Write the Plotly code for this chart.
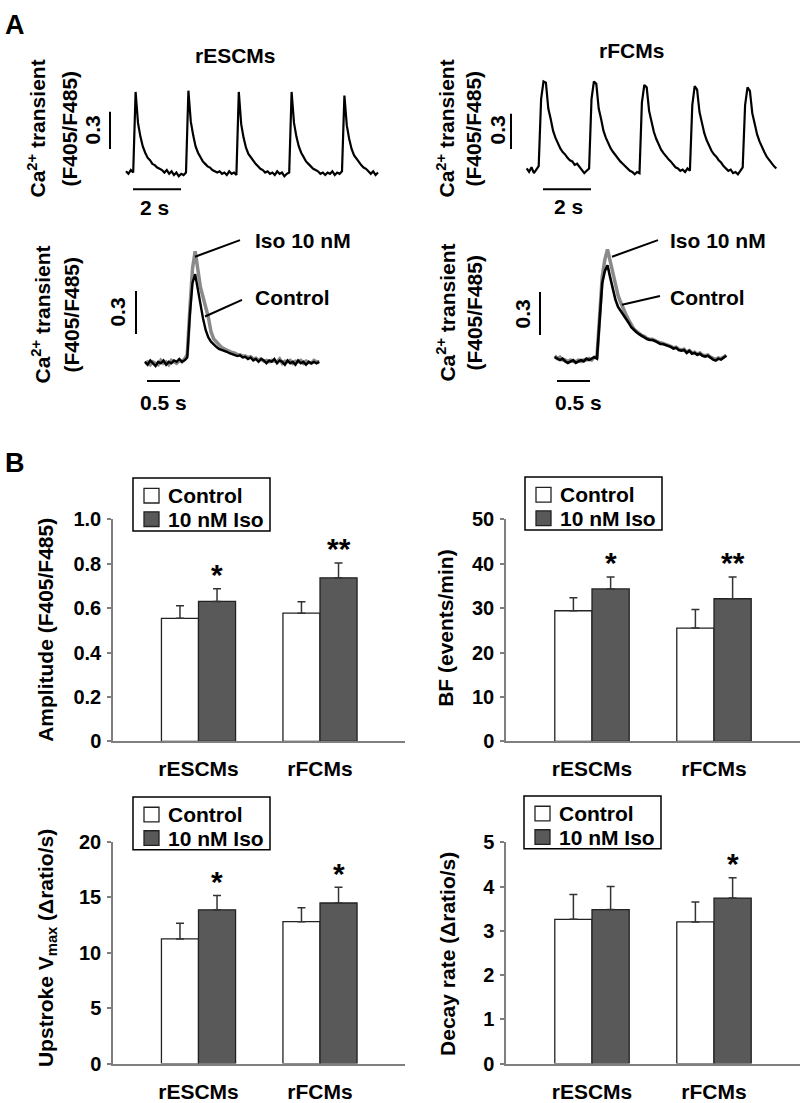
import numpy as np
import plotly.graph_objects as go

W, H = 800, 1103
FONT = "Liberation Sans, Arial, Helvetica, sans-serif"

# ---------------- Panel A: Ca2+ transient traces (F405/F485 ratio) ----------------
dt_top = 0.1   # s per sample (spontaneous traces)
escm_spont = [0.46, 0.44, 0.47, 0.45,
              1.10, 0.85, 0.74, 0.66, 0.61, 0.57, 0.55, 0.52, 0.51, 0.49, 0.48, 0.47, 0.45, 0.47, 0.44, 0.46, 0.43, 0.45, 0.42, 0.44, 0.43, 0.45,
              1.11, 0.86, 0.75, 0.66, 0.61, 0.57, 0.54, 0.52, 0.50, 0.49, 0.47, 0.46, 0.45, 0.46, 0.44, 0.45, 0.43, 0.46, 0.44, 0.45, 0.43,
              1.10, 0.84, 0.73, 0.65, 0.60, 0.57, 0.54, 0.52, 0.50, 0.48, 0.47, 0.45, 0.46, 0.44, 0.45, 0.43, 0.46, 0.44, 0.45, 0.42, 0.44, 0.45,
              1.10, 0.85, 0.74, 0.66, 0.61, 0.57, 0.54, 0.52, 0.50, 0.48, 0.47, 0.46, 0.44, 0.45, 0.43, 0.45, 0.44, 0.46, 0.43, 0.45, 0.44, 0.46,
              1.07, 0.83, 0.72, 0.64, 0.59, 0.56, 0.53, 0.51, 0.49, 0.48, 0.46, 0.44, 0.46, 0.43, 0.45]
fcm_spont = [0.46, 0.43, 0.47, 0.42, 0.45, 0.48,
             1.05, 1.20, 1.19, 0.97, 0.88, 0.78, 0.72, 0.67, 0.63, 0.60, 0.58, 0.55, 0.53, 0.52, 0.49, 0.50, 0.47, 0.45, 0.42, 0.44, 0.46,
             1.05, 1.20, 1.18, 0.97, 0.88, 0.78, 0.72, 0.67, 0.63, 0.60, 0.57, 0.54, 0.52, 0.50, 0.48, 0.46, 0.44, 0.43, 0.41, 0.43, 0.42,
             1.02, 1.17, 1.15, 0.95, 0.86, 0.77, 0.71, 0.66, 0.62, 0.59, 0.56, 0.54, 0.52, 0.49, 0.47, 0.46, 0.44, 0.45, 0.43, 0.46, 0.44,
             1.00, 1.16, 1.13, 0.94, 0.85, 0.76, 0.70, 0.65, 0.61, 0.58, 0.56, 0.53, 0.51, 0.48, 0.46, 0.44, 0.45, 0.42, 0.43, 0.41, 0.44, 0.47,
             1.00, 1.15, 1.12, 0.93, 0.84, 0.75, 0.69, 0.64, 0.60, 0.56, 0.53, 0.50, 0.48, 0.46]

dt_single = 0.04   # s per sample (single transients)
escm_ctrl_tr = [0.45, 0.43, 0.46, 0.44, 0.42, 0.45, 0.44, 0.46, 0.43, 0.45, 0.44, 0.46, 0.45, 0.47, 0.45, 0.46,
                0.48, 0.78, 1.00, 1.06, 0.95, 0.86, 0.75, 0.67, 0.62, 0.59, 0.57, 0.555, 0.54, 0.535, 0.525, 0.52,
                0.51, 0.505, 0.50, 0.49, 0.495, 0.48, 0.485, 0.47, 0.48, 0.46, 0.47, 0.45, 0.47, 0.46, 0.44, 0.46,
                0.45, 0.47, 0.44, 0.46, 0.45, 0.43, 0.46, 0.44, 0.45, 0.43, 0.46, 0.44, 0.45, 0.43, 0.45, 0.44,
                0.45, 0.44, 0.45]
escm_iso_tr = [0.44, 0.45, 0.43, 0.45, 0.44, 0.43, 0.46, 0.44, 0.45, 0.43, 0.46, 0.45, 0.44, 0.46, 0.45, 0.47,
               0.50, 0.82, 1.10, 1.22, 1.09, 0.97, 0.90, 0.83, 0.76, 0.66, 0.61, 0.59, 0.565, 0.55, 0.54, 0.53,
               0.52, 0.515, 0.51, 0.50, 0.50, 0.49, 0.49, 0.48, 0.485, 0.47, 0.475, 0.46, 0.47, 0.455, 0.46, 0.45,
               0.46, 0.455, 0.45, 0.47, 0.44, 0.455, 0.45, 0.46, 0.44, 0.455, 0.45, 0.46, 0.44, 0.455, 0.45, 0.44,
               0.46, 0.45, 0.45]
fcm_ctrl_tr = [0.46, 0.45, 0.44, 0.45, 0.43, 0.42, 0.43, 0.44, 0.42, 0.43, 0.44, 0.43, 0.45, 0.44, 0.45, 0.46,
               0.45, 0.69, 0.975, 1.06, 1.10, 1.016, 0.934, 0.86, 0.81, 0.784, 0.757, 0.73, 0.70, 0.668, 0.648, 0.634,
               0.62, 0.607, 0.60, 0.586, 0.58, 0.58, 0.573, 0.56, 0.552, 0.552, 0.545, 0.54, 0.532, 0.52, 0.525, 0.51,
               0.505, 0.51, 0.49, 0.505, 0.484, 0.49, 0.477, 0.484, 0.47, 0.464, 0.47, 0.457, 0.443, 0.436, 0.45, 0.443,
               0.457, 0.47]
fcm_iso_tr = [0.47, 0.45, 0.46, 0.44, 0.44, 0.43, 0.44, 0.43, 0.43, 0.44, 0.43, 0.44, 0.44, 0.45, 0.44, 0.46,
              0.46, 0.72, 1.02, 1.14, 1.21, 1.13, 1.04, 0.975, 0.89, 0.84, 0.79, 0.757, 0.72, 0.69, 0.655, 0.64,
              0.625, 0.61, 0.605, 0.59, 0.585, 0.585, 0.575, 0.565, 0.56, 0.555, 0.55, 0.545, 0.535, 0.525, 0.53, 0.515,
              0.51, 0.515, 0.495, 0.505, 0.49, 0.495, 0.48, 0.49, 0.475, 0.47, 0.475, 0.46, 0.45, 0.445, 0.455, 0.45,
              0.46, 0.475]

scale_ratio = 0.3      # vertical scale bar (ratio units)
scale_t_spont = 2.0    # s
scale_t_single = 0.5   # s

# ---------------- Panel B: bar data ----------------
groups = ["rESCMs", "rFCMs"]
series_names = ["Control", "10 nM Iso"]
amp_ctrl, amp_ctrl_err = [0.554, 0.577], [0.057, 0.051]
amp_iso, amp_iso_err = [0.630, 0.736], [0.057, 0.067]
bf_ctrl, bf_ctrl_err = [29.4, 25.5], [2.9, 4.2]
bf_iso, bf_iso_err = [34.3, 32.1], [2.7, 4.9]
vmax_ctrl, vmax_ctrl_err = [11.23, 12.79], [1.41, 1.26]
vmax_iso, vmax_iso_err = [13.85, 14.47], [1.30, 1.41]
decay_ctrl, decay_ctrl_err = [3.26, 3.20], [0.56, 0.45]
decay_iso, decay_iso_err = [3.48, 3.74], [0.52, 0.46]
amp_stars = ["*", "**"]
bf_stars = ["*", "**"]
vmax_stars = ["*", "*"]
decay_stars = ["", "*"]
amp_ticks = [0, 0.2, 0.4, 0.6, 0.8, 1.0]
amp_ticktext = ["0", "0.2", "0.4", "0.6", "0.8", "1.0"]
bf_ticks = [0, 10, 20, 30, 40, 50]
vmax_ticks = [0, 5, 10, 15, 20]
decay_ticks = [0, 1, 2, 3, 4, 5]

CTRL_COLOR = "white"
ISO_COLOR = "#595959"
EDGE = "#222222"

# ---------------- helpers ----------------
def PX(x):
    return x / W

def PY(y):
    return 1 - y / H

fig = go.Figure()
annotations = []
shapes = []

def text(t, x, y, size=21, angle=0, xanchor="center", yanchor="middle", xref="paper", yref="paper"):
    if xref == "paper":
        x = PX(x)
    if yref == "paper":
        y = PY(y)
    annotations.append(dict(text=t, x=x, y=y, xref=xref, yref=yref, showarrow=False,
                            textangle=angle, xanchor=xanchor, yanchor=yanchor,
                            font=dict(family=FONT, size=size, color="black", weight="bold")))

calib = {}

def trace_axes(n, xdom, ydom, t0_px, px_per_s, base_py, base_val, px_per_unit):
    calib[n] = (t0_px, px_per_s, base_py, base_val, px_per_unit)
    xr = [(xdom[0] - t0_px) / px_per_s, (xdom[1] - t0_px) / px_per_s]
    yr = [base_val - (ydom[1] - base_py) / px_per_unit, base_val + (base_py - ydom[0]) / px_per_unit]
    fig.layout[f"xaxis{n}"] = dict(domain=[PX(xdom[0]), PX(xdom[1])], range=xr, visible=False,
                                   anchor=f"y{n}")
    fig.layout[f"yaxis{n}"] = dict(domain=[PY(ydom[1]), PY(ydom[0])], range=yr, visible=False,
                                   anchor=f"x{n}")

def tx(n, xp):
    t0, pps, _, _, _ = calib[n]
    return (xp - t0) / pps

def vy(n, yp):
    _, _, bpy, bv, ppu = calib[n]
    return bv + (bpy - yp) / ppu

def scalebars(n, vx, vy_bottom, hx_left, hy, tlen):
    x = tx(n, vx)
    y0 = vy(n, vy_bottom)
    shapes.append(dict(type="line", xref=f"x{n}", yref=f"y{n}", x0=x, x1=x, y0=y0, y1=y0 + scale_ratio,
                       line=dict(color="black", width=2)))
    x0 = tx(n, hx_left)
    yh = vy(n, hy)
    shapes.append(dict(type="line", xref=f"x{n}", yref=f"y{n}", x0=x0, x1=x0 + tlen, y0=yh, y1=yh,
                       line=dict(color="black", width=2)))

def leader(x0, y0, x1, y1):
    shapes.append(dict(type="line", xref="paper", yref="paper", x0=PX(x0), y0=PY(y0), x1=PX(x1), y1=PY(y1),
                       line=dict(color="black", width=2)))

def legend_box(left, top):
    shapes.append(dict(type="rect", xref="paper", yref="paper", x0=PX(left), x1=PX(left + 137),
                       y0=PY(top + 54), y1=PY(top), line=dict(color="black", width=1.5), fillcolor="white"))
    for k, (name, col) in enumerate(zip(series_names, [CTRL_COLOR, ISO_COLOR])):
        cy = top + 18 + 24 * k
        shapes.append(dict(type="rect", xref="paper", yref="paper", x0=PX(left + 11), x1=PX(left + 26),
                           y0=PY(cy + 7.5), y1=PY(cy - 7.5), line=dict(color=EDGE, width=1.3), fillcolor=col))
        text(name, left + 33, cy, size=21, xanchor="left")

# ---------------- Panel A ----------------
trace_axes(5, (90, 390), (60, 200), 126, 24, 165, 0.45, 126.7)
trace_axes(6, (495, 790), (60, 200), 526.7, 24, 162, 0.45, 120)
trace_axes(7, (125, 340), (225, 390), 145, 66, 358.3, 0.45, 146.7)
trace_axes(8, (530, 745), (225, 390), 554.7, 66, 355, 0.45, 146.7)

t_escm = np.arange(len(escm_spont)) * dt_top
t_fcm = np.arange(len(fcm_spont)) * dt_top
fig.add_trace(go.Scatter(x=t_escm, y=escm_spont, mode="lines", line=dict(color="black", width=2.2),
                         xaxis="x5", yaxis="y5", showlegend=False))
fig.add_trace(go.Scatter(x=t_fcm, y=fcm_spont, mode="lines", line=dict(color="black", width=2.2),
                         xaxis="x6", yaxis="y6", showlegend=False))

t_s1 = np.arange(len(escm_ctrl_tr)) * dt_single
t_s2 = np.arange(len(fcm_ctrl_tr)) * dt_single
fig.add_trace(go.Scatter(x=t_s1, y=escm_iso_tr, mode="lines", line=dict(color="#8a8a8a", width=3.5),
                         xaxis="x7", yaxis="y7", showlegend=False))
fig.add_trace(go.Scatter(x=t_s1, y=escm_ctrl_tr, mode="lines", line=dict(color="black", width=2.4),
                         xaxis="x7", yaxis="y7", showlegend=False))
fig.add_trace(go.Scatter(x=t_s2, y=fcm_iso_tr, mode="lines", line=dict(color="#8a8a8a", width=3.5),
                         xaxis="x8", yaxis="y8", showlegend=False))
fig.add_trace(go.Scatter(x=t_s2, y=fcm_ctrl_tr, mode="lines", line=dict(color="black", width=2.6),
                         xaxis="x8", yaxis="y8", showlegend=False))

scalebars(5, 110, 141, 133, 182, scale_t_spont)
scalebars(6, 511, 141, 543, 182, scale_t_spont)
scalebars(7, 136, 330, 147, 378, scale_t_single)
scalebars(8, 540, 331, 557, 378, scale_t_single)

text("A", 15, 14, size=27)
text("B", 15, 462, size=27)
text("rESCMs", 235, 45)
text("rFCMs", 631, 40)
for (x1, x2, yc) in [(37, 69, 120), (446, 473, 120), (41, 72, 310), (446, 475, 308)]:
    text("Ca<sup>2+</sup> transient", x1, yc, angle=-90)
    text("(F405/F485)", x2, yc, angle=-90)
text("0.3", 92, 122, angle=-90)
text("0.3", 497, 122, angle=-90)
text("0.3", 118, 308, angle=-90)
text("0.3", 523, 310, angle=-90)
text("2 s", 154, 201)
text("2 s", 568, 200)
text("0.5 s", 163, 400)
text("0.5 s", 578, 400)
text("Iso 10 nM", 253, 234, xanchor="left")
text("Control", 253, 293, xanchor="left")
text("Iso 10 nM", 668, 234, xanchor="left")
text("Control", 668, 293, xanchor="left")
leader(195, 251, 240, 234)
leader(205, 312, 242, 295)
leader(612, 251, 658, 234)
leader(622, 300, 660, 291)

# ---------------- Panel B ----------------
BARGAP = 0.39
half_bar = (1 - BARGAP) / 4.0

def bar_panel(n, xdom, ydom, ymax, ticks, ticktext, ctrl, ctrl_err, iso, iso_err, stars,
              leg_x, leg_y, cat0_px, cat_step_px):
    xa, ya = f"x{n}" if n > 1 else "x", f"y{n}" if n > 1 else "y"
    for name, vals, errs, col in [(series_names[0], ctrl, ctrl_err, CTRL_COLOR),
                                  (series_names[1], iso, iso_err, ISO_COLOR)]:
        fig.add_trace(go.Bar(x=groups, y=vals, name=name, xaxis=xa, yaxis=ya, showlegend=False,
                             marker=dict(color=col, line=dict(color=EDGE, width=1.3)),
                             error_y=dict(type="data", symmetric=False, array=errs, arrayminus=[0] * len(vals),
                                          color="#333333", thickness=1.5, width=4)))
    length = (xdom[1] - xdom[0]) / cat_step_px
    start = (xdom[0] - cat0_px) / cat_step_px
    key = "xaxis" if n == 1 else f"xaxis{n}"
    ykey = "yaxis" if n == 1 else f"yaxis{n}"
    fig.layout[key] = dict(domain=[PX(xdom[0]), PX(xdom[1])], anchor=ya, type="category",
                           range=[start, start + length], showline=True, linecolor="#7f7f7f", linewidth=1.5,
                           ticks="", showgrid=False, zeroline=False, ticklabelstandoff=8,
                           tickfont=dict(family=FONT, size=21, color="black", weight="bold"))
    fig.layout[ykey] = dict(domain=[PY(ydom[1]), PY(ydom[0])], anchor=xa, range=[0, ymax],
                            tickvals=ticks, ticktext=ticktext, ticks="outside", ticklen=4, tickwidth=1.5,
                            tickcolor="#7f7f7f", showline=True, linecolor="#7f7f7f", linewidth=1.5,
                            showgrid=False, zeroline=False, ticklabelstandoff=2,
                            tickfont=dict(family=FONT, size=20, color="black", weight="bold"))
    for i, s in enumerate(stars):
        if s:
            annotations.append(dict(text=s, x=i + half_bar, y=iso[i] + iso_err[i], xref=xa, yref=ya,
                                    showarrow=False, xanchor="center", yanchor="middle", yshift=14,
                                    font=dict(family=FONT, size=30, color="black", weight="bold")))
    legend_box(leg_x, leg_y)

bar_panel(1, (113, 405), (519, 746), 1.0, amp_ticks, amp_ticktext, amp_ctrl, amp_ctrl_err,
          amp_iso, amp_iso_err, amp_stars, 133, 477, 198.5, 121.5)
bar_panel(2, (506, 800), (519, 746), 50, bf_ticks, [str(v) for v in bf_ticks], bf_ctrl, bf_ctrl_err,
          bf_iso, bf_iso_err, bf_stars, 525, 476, 592, 122)
bar_panel(3, (113, 405), (848.3, 1075), 20, vmax_ticks, [str(v) for v in vmax_ticks], vmax_ctrl,
          vmax_ctrl_err, vmax_iso, vmax_iso_err, vmax_stars, 133, 802.7, 198.5, 121.5)
bar_panel(4, (506, 800), (849, 1075), 5, decay_ticks, [str(v) for v in decay_ticks], decay_ctrl,
          decay_ctrl_err, decay_iso, decay_iso_err, decay_stars, 524, 801.7, 592, 122)

text("Amplitude (F405/F485)", 46, 632, angle=-90)
text("BF (events/min)", 446, 630, angle=-90)
text("Upstroke V<sub>max</sub> (Δratio/s)", 47, 957, angle=-90)
text("Decay rate (Δratio/s)", 448, 963, angle=-90)

fig.update_layout(width=W, height=H, margin=dict(l=0, r=0, t=0, b=0), paper_bgcolor="white",
                  plot_bgcolor="rgba(0,0,0,0)", barmode="group", bargap=BARGAP, bargroupgap=0,
                  showlegend=False, hovermode=False, annotations=annotations, shapes=shapes,
                  font=dict(family=FONT, color="black"))

fig.write_html("out.html", config={"displayModeBar": False},
               post_script="document.body.style.margin='0px';")
